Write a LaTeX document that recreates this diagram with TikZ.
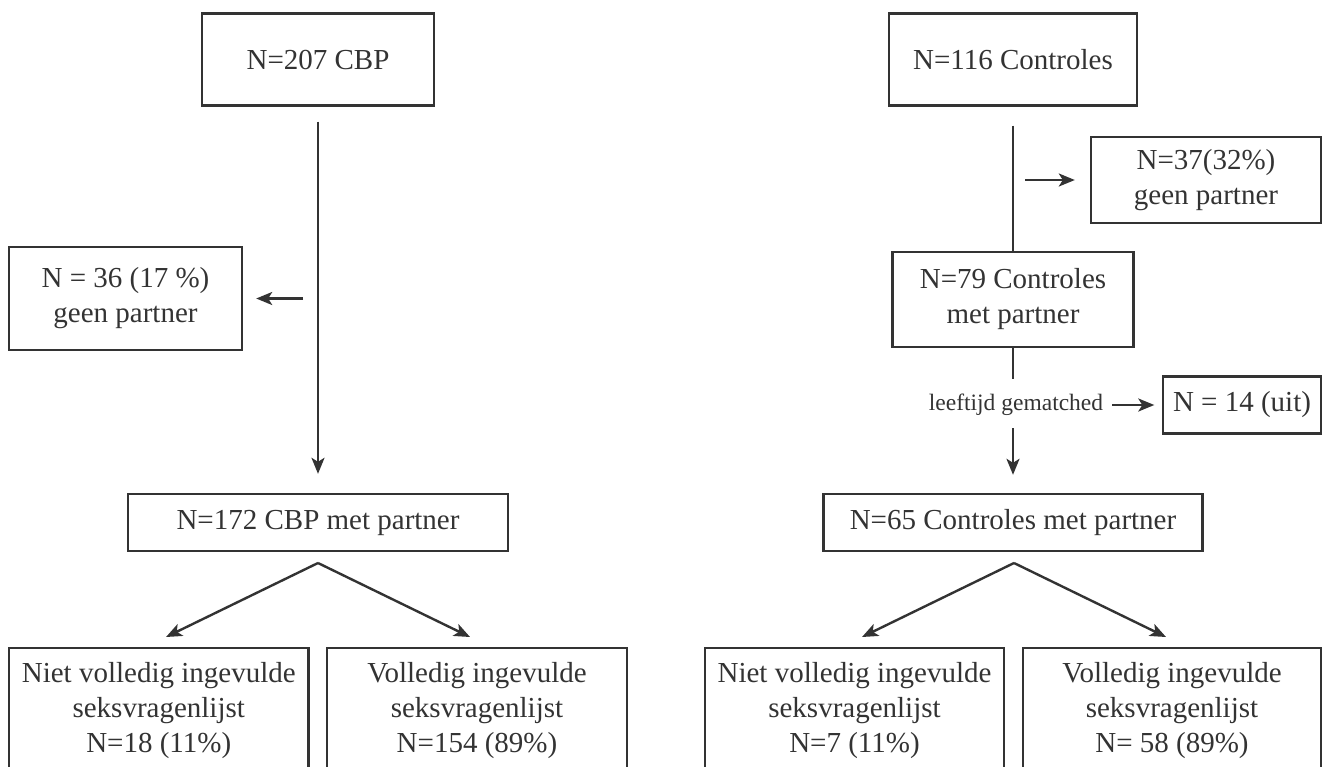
\documentclass[tikz,border=0pt]{standalone}
\usepackage{fontspec}
\setmainfont{Liberation Serif}
\usetikzlibrary{arrows.meta}
\definecolor{ink}{HTML}{333333}
\tikzset{
  box/.style={draw=ink, line width=2.4pt, text=ink, align=center, inner sep=0pt,
    font=\fontsize{29}{35}\selectfont},
  smalltext/.style={text=ink, inner sep=0pt, font=\fontsize{23.5}{28}\selectfont},
  arr/.style={draw=ink, line width=2.4pt, -{Stealth[length=16pt,width=13pt,inset=4pt]}},
  ln/.style={draw=ink, line width=2.4pt},
}
\begin{document}
\begin{tikzpicture}[x=1pt,y=-1pt]
\useasboundingbox (0,0) rectangle (1324,766);
\clip (0,0) rectangle (1324,766);
% left column
\node[box, minimum width=232pt, minimum height=92pt] (cbp) at (318,59.5) {N=207 CBP};
\node[box, minimum width=233pt, minimum height=103pt] (np) at (125.5,298.5) {N = 36 (17 \%)\\geen partner};
\node[box, minimum width=380pt, minimum height=57pt] (cbpm) at (318,522.5) {N=172 CBP met partner};
\node[box, minimum width=299.5pt, minimum height=126pt] (nv1) at (158.75,711) {Niet volledig ingevulde\\seksvragenlijst\\N=18 (11\%)};
\node[box, minimum width=300pt, minimum height=126pt] (v1) at (477,711) {Volledig ingevulde\\seksvragenlijst\\N=154 (89\%)};
% right column
\node[box, minimum width=248pt, minimum height=92pt] (ctl) at (1013,59.5) {N=116 Controles};
\node[box, minimum width=230pt, minimum height=86pt] (np2) at (1206,180) {N=37(32\%)\\geen partner};
\node[box, minimum width=241pt, minimum height=95pt] (ctlm) at (1013,299.5) {N=79 Controles\\met partner};
\node[smalltext] (lg) at (1016,405) {leeftijd gematched};
\node[box, minimum width=158pt, minimum height=57pt] (uit) at (1242,405) {N = 14 (uit)};
\node[box, minimum width=379pt, minimum height=57pt] (ctlm2) at (1013,522.5) {N=65 Controles met partner};
\node[box, minimum width=299pt, minimum height=126pt] (nv2) at (854.5,711) {Niet volledig ingevulde\\seksvragenlijst\\N=7 (11\%)};
\node[box, minimum width=298pt, minimum height=126pt] (v2) at (1172,711) {Volledig ingevulde\\seksvragenlijst\\N= 58 (89\%)};
% connectors left
\draw[arr, shorten <=15pt, shorten >=19pt] (cbp) -- (cbpm);
\coordinate (s1) at (303,298.5);
\draw[arr, shorten >=13pt] (s1) -- (np);
\coordinate (a1) at (318,563);
\coordinate (e1) at (166,637);
\coordinate (e2) at (470,637);
\draw[arr] (a1) -- (e1);
\draw[arr] (a1) -- (e2);
% connectors right
\draw[ln, shorten <=19pt] (ctl) -- (ctlm);
\coordinate (s2) at (1025,180);
\draw[arr, shorten >=15pt] (s2) -- (np2);
\coordinate (c1) at (1013,379);
\draw[ln] (ctlm) -- (c1);
\coordinate (c2) at (1013,428);
\draw[arr, shorten >=18pt] (c2) -- (ctlm2);
\draw[arr, shorten <=9pt, shorten >=7.5pt] (lg) -- (uit);
\coordinate (a2) at (1014,563);
\coordinate (e3) at (862,637);
\coordinate (e4) at (1166,637);
\draw[arr] (a2) -- (e3);
\draw[arr] (a2) -- (e4);
\end{tikzpicture}
\end{document}
